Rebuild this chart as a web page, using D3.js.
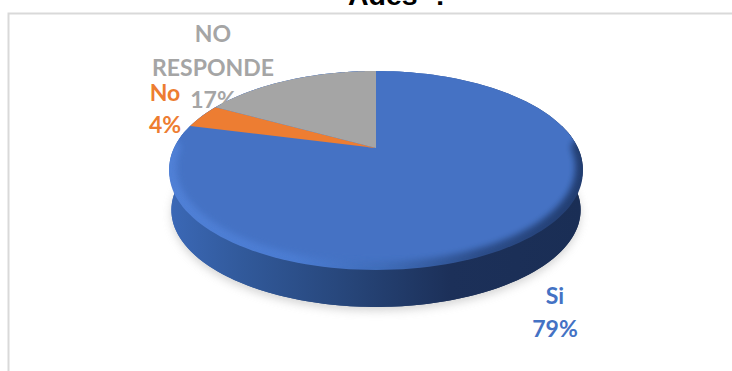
<!DOCTYPE html>
<html>
<head>
<meta charset="utf-8">
<script src="https://cdnjs.cloudflare.com/ajax/libs/d3/7.8.5/d3.min.js"></script>
<style>
html,body{margin:0;padding:0;background:#fff;overflow:hidden}
svg{display:block}
text{font-family:Lato,"Open Sans",sans-serif;font-weight:700;font-size:23px}
</style>
</head>
<body>
<svg id="chart" width="732" height="371"></svg>
<script>
const categories = ["Si", "No", "NO RESPONDE"];
const shares = [79, 4, 17];
const sliceColors = ["#4472c4", "#ed7d31", "#a5a5a5"];
const chartTitle = "Ades";
const titleMark = "?";

const svg = d3.select("#chart");
const defs = svg.append("defs");

// Perspective disc: a point on the unit circle is projected towards the viewer.
const cx = 376, cy = 148, a = 202, b = 93.5, k = 0.214;
const project = (theta, r = 1, dy = 0) => {
  const u = r * Math.sin(theta), v = r * Math.cos(theta), d = 1 + k * v;
  return [cx + a * u / d, cy - b * v / d + dy];
};

const pie = d3.pie().sort(null).value(d => d)(shares);
const steps = t => d3.range(0, 1.0001, 1 / 180).map(f => t[0] + (t[1] - t[0]) * f);
const line = d3.line();
const fullTurn = steps([0, 2 * Math.PI]);
const rim = (r, dy) => line(fullTurn.map(t => project(t, r, dy))) + "Z";

const addGradient = (id, stops) => {
  const g = defs.append("linearGradient").attr("id", id)
    .attr("gradientUnits", "userSpaceOnUse")
    .attr("x1", 170).attr("x2", 582).attr("y1", 0).attr("y2", 0);
  stops.forEach(s => g.append("stop").attr("offset", s[0]).attr("stop-color", s[1]));
};
// Side wall: lit on the left, nearly navy on the right
addGradient("wall", [[0, "#3b68b6"], [0.18, "#31599a"], [0.45, "#264477"], [0.68, "#1c3059"], [1, "#1a2e55"]]);
// Bevel running along the front of the top face
addGradient("bevel", [[0, "#5080d6"], [0.3, "#4b7cd2"], [0.52, "#3f6cb9"], [0.75, "#2c4d8a"], [1, "#223d70"]]);

const blur = (id, sd) => defs.append("filter").attr("id", id)
  .attr("x", "-10%").attr("y", "-10%").attr("width", "120%").attr("height", "120%")
  .append("feGaussianBlur").attr("stdDeviation", sd);
blur("soft", 4);
blur("softer", 3);
blur("edge", 0.45);

// Chart frame: only the top and left rules are visible
svg.append("path").attr("d", "M8.5,371V13.5H732")
  .attr("fill", "none").attr("stroke", "#d9d9d9").attr("stroke-width", 2);

// Title, sitting against the top edge
const titleStyle = sel => sel.attr("y", 5)
  .style("font-family", "'Liberation Sans',Arial,sans-serif")
  .style("font-size", "28.5px").attr("fill", "#000");
svg.append("text").attr("x", 348).text(chartTitle).call(titleStyle);
svg.append("text").attr("x", 432).text(titleMark).call(titleStyle);

// Ground shadow
const baseR = 0.99, baseDrop = 41.5;
svg.append("path").attr("d", rim(baseR, baseDrop + 4))
  .attr("fill", "#c4c4c4").attr("opacity", 0.7).attr("filter", "url(#soft)");

// Extruded side: front arc of the top outline joined to the base outline
const front = steps([Math.PI / 2 - 0.25, 1.5 * Math.PI + 0.25]);
svg.append("path")
  .attr("d", line([...front.map(t => project(t)), ...front.slice().reverse().map(t => project(t, baseR, baseDrop))]) + "Z")
  .attr("fill", "url(#wall)");
svg.append("path").attr("d", rim(baseR, baseDrop)).attr("fill", "url(#wall)");

// Bevel lip, slightly lower than the top face so it shows along the front
const lip = 3;
const clip = defs.append("clipPath").attr("id", "disc");
clip.append("path").attr("d", rim(1, 0));
clip.append("path").attr("d", rim(1, lip));
svg.append("path").attr("d", rim(1, 0)).attr("fill", "url(#bevel)");
svg.append("path").attr("d", rim(1, lip)).attr("fill", "url(#bevel)");

// Flat face blurred over the lip: it overshoots the far edge, where the clip keeps it sharp
const faceRadius = t => 0.965 + 0.12 * d3.easeCubicInOut(Math.min(1, Math.max(0, (Math.cos(t) + 0.05) / 0.3)));
svg.append("g").attr("clip-path", "url(#disc)")
  .append("path")
  .attr("d", line(fullTurn.map(t => project(t, faceRadius(t)))) + "Z")
  .attr("fill", sliceColors[0]).attr("filter", "url(#softer)");

// Slices on the far side of the top face; the large one is the face above
const slicePath = d => line([[cx, cy], ...steps([d.startAngle, d.endAngle]).map(t => project(t))]) + "Z";
svg.append("g").selectAll("path").data(pie.slice(1)).join("path")
  .attr("d", slicePath)
  .attr("fill", d => sliceColors[d.index])
  .attr("filter", "url(#edge)");

// Data labels
const labels = [
  { i: 0, x: 555, lines: [[304, categories[0]], [337, shares[0] + "%"]] },
  { i: 1, x: 165, lines: [[101, categories[1]], [133, shares[1] + "%"]] },
  { i: 2, x: 213, lines: [[42, "NO"], [76, "RESPONDE"], [108, shares[2] + "%"]] }
];
labels.forEach(l => {
  l.lines.forEach(([y, s]) => {
    svg.append("text").attr("x", l.x).attr("y", y).attr("text-anchor", "middle")
      .attr("fill", sliceColors[l.i]).text(s);
  });
});
</script>
</body>
</html>
